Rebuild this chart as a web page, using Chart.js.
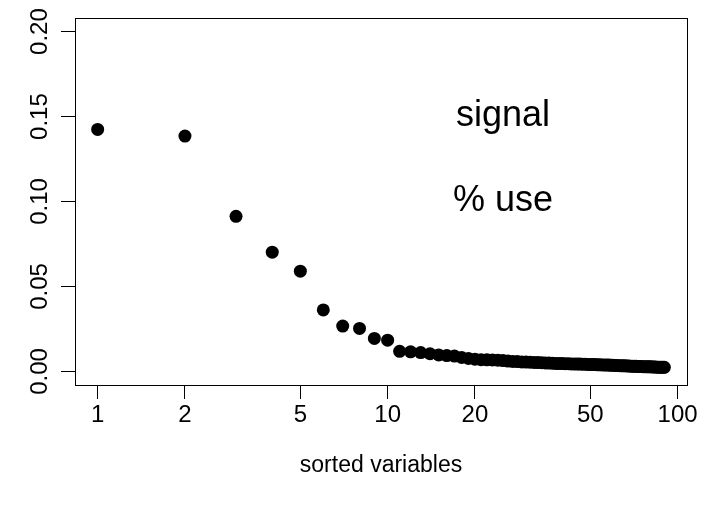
<!DOCTYPE html>
<html>
<head>
<meta charset="utf-8">
<script src="https://cdn.jsdelivr.net/npm/chart.js@4"></script>
<style>
  html,body{margin:0;padding:0;background:#fff;}
  #wrap{width:705px;height:509px;}
</style>
</head>
<body>
<div id="wrap"><canvas id="c" width="705" height="509"></canvas></div>
<script>
// sorted importance values, variables 1..90
const importance = [
  0.1424, 0.1385, 0.0913, 0.0702, 0.0590, 0.0362, 0.0267, 0.0253, 0.0194, 0.0184,
  0.0118, 0.0115, 0.0111, 0.0104, 0.0097, 0.0093, 0.0090, 0.0082, 0.0076, 0.0072,
  0.0069, 0.0068, 0.0067, 0.0066, 0.0064, 0.0061, 0.0059, 0.0058, 0.0056, 0.0055,
  0.0054, 0.0053, 0.0052, 0.0051, 0.0050, 0.0049, 0.0048, 0.0047, 0.0046, 0.0046,
  0.0045, 0.0045, 0.0044, 0.0044, 0.0043, 0.0043, 0.0042, 0.0042, 0.0041, 0.0041,
  0.0040, 0.0040, 0.0039, 0.0039, 0.0038, 0.0038, 0.0037, 0.0037, 0.0036, 0.0036,
  0.0035, 0.0035, 0.0034, 0.0034, 0.0033, 0.0033, 0.0032, 0.0032, 0.0031, 0.0031,
  0.0030, 0.0030, 0.0029, 0.0029, 0.0029, 0.0028, 0.0028, 0.0028, 0.0027, 0.0027,
  0.0027, 0.0026, 0.0026, 0.0026, 0.0025, 0.0025, 0.0025, 0.0025, 0.0024, 0.0024
];
const xTicks = [1, 2, 5, 10, 20, 50, 100];
const yTicks = [0, 0.05, 0.10, 0.15, 0.20];
const yTickLabels = ["0.00", "0.05", "0.10", "0.15", "0.20"];
const notes = [
  { x: 25, y: 0.15, text: "signal" },
  { x: 25, y: 0.10, text: "% use" }
];

const FONT = "'Liberation Sans', Arial, Helvetica, sans-serif";
const points = importance.map((v, i) => ({ x: i + 1, y: v }));

// R-style 4% axis extension
const L = Math.log10(importance.length);
const xMin = Math.pow(10, -0.04 * L), xMax = Math.pow(10, 1.04 * L);
const yMin = 0 - 0.04 * 0.2, yMax = 0.2 + 0.04 * 0.2;

// box, rotated y labels and text notes
const rPlot = {
  id: "rPlot",
  afterDraw(chart) {
    const { ctx, chartArea: a, scales } = chart;
    ctx.save();
    ctx.strokeStyle = "#000"; ctx.lineWidth = 1;
    ctx.strokeRect(Math.round(a.left) + 0.5, Math.round(a.top) + 0.5,
      Math.round(a.right - a.left), Math.round(a.bottom - a.top));
    ctx.fillStyle = "#000";
    ctx.font = `24px ${FONT}`;
    ctx.textAlign = "center"; ctx.textBaseline = "alphabetic";
    yTicks.forEach((v, i) => {
      const py = scales.y.getPixelForValue(v);
      ctx.save();
      ctx.translate(47, py);
      ctx.rotate(-Math.PI / 2);
      ctx.fillText(yTickLabels[i], 0, 0);
      ctx.restore();
    });
    ctx.font = `36px ${FONT}`;
    ctx.textBaseline = "middle";
    notes.forEach(n => {
      ctx.fillText(n.text, scales.x.getPixelForValue(n.x), scales.y.getPixelForValue(n.y));
    });
    ctx.restore();
  }
};

new Chart(document.getElementById("c"), {
  type: "scatter",
  data: {
    datasets: [{
      data: points,
      backgroundColor: "#000",
      borderWidth: 0,
      pointRadius: 6.5,
      pointHoverRadius: 6.5
    }]
  },
  options: {
    responsive: false,
    animation: false,
    events: [],
    layout: { padding: { top: 18, right: 18, left: 0, bottom: 0 } },
    plugins: { legend: { display: false }, tooltip: { enabled: false } },
    scales: {
      x: {
        type: "logarithmic",
        min: xMin, max: xMax,
        afterBuildTicks: s => { s.ticks = xTicks.map(v => ({ value: v })); },
        afterFit: s => { s.height = 124; },
        grid: { drawOnChartArea: false, drawTicks: true, tickLength: 14, color: "#000", lineWidth: 1 },
        border: { display: true, color: "#000", width: 1 },
        ticks: { color: "#000", font: { family: FONT, size: 24 }, padding: 2, maxRotation: 0, autoSkip: false,
                 callback: v => String(v) },
        title: { display: true, text: "sorted variables", color: "#000",
                 font: { family: FONT, size: 23 }, padding: { top: 0, bottom: 30 } }
      },
      y: {
        type: "linear",
        min: yMin, max: yMax,
        afterBuildTicks: s => { s.ticks = yTicks.map(v => ({ value: v })); },
        afterFit: s => { s.width = 75; },
        grid: { drawOnChartArea: false, drawTicks: true, tickLength: 14, color: "#000", lineWidth: 1 },
        border: { display: true, color: "#000", width: 1 },
        ticks: { display: false }
      }
    }
  },
  plugins: [rPlot]
});
</script>
</body>
</html>
